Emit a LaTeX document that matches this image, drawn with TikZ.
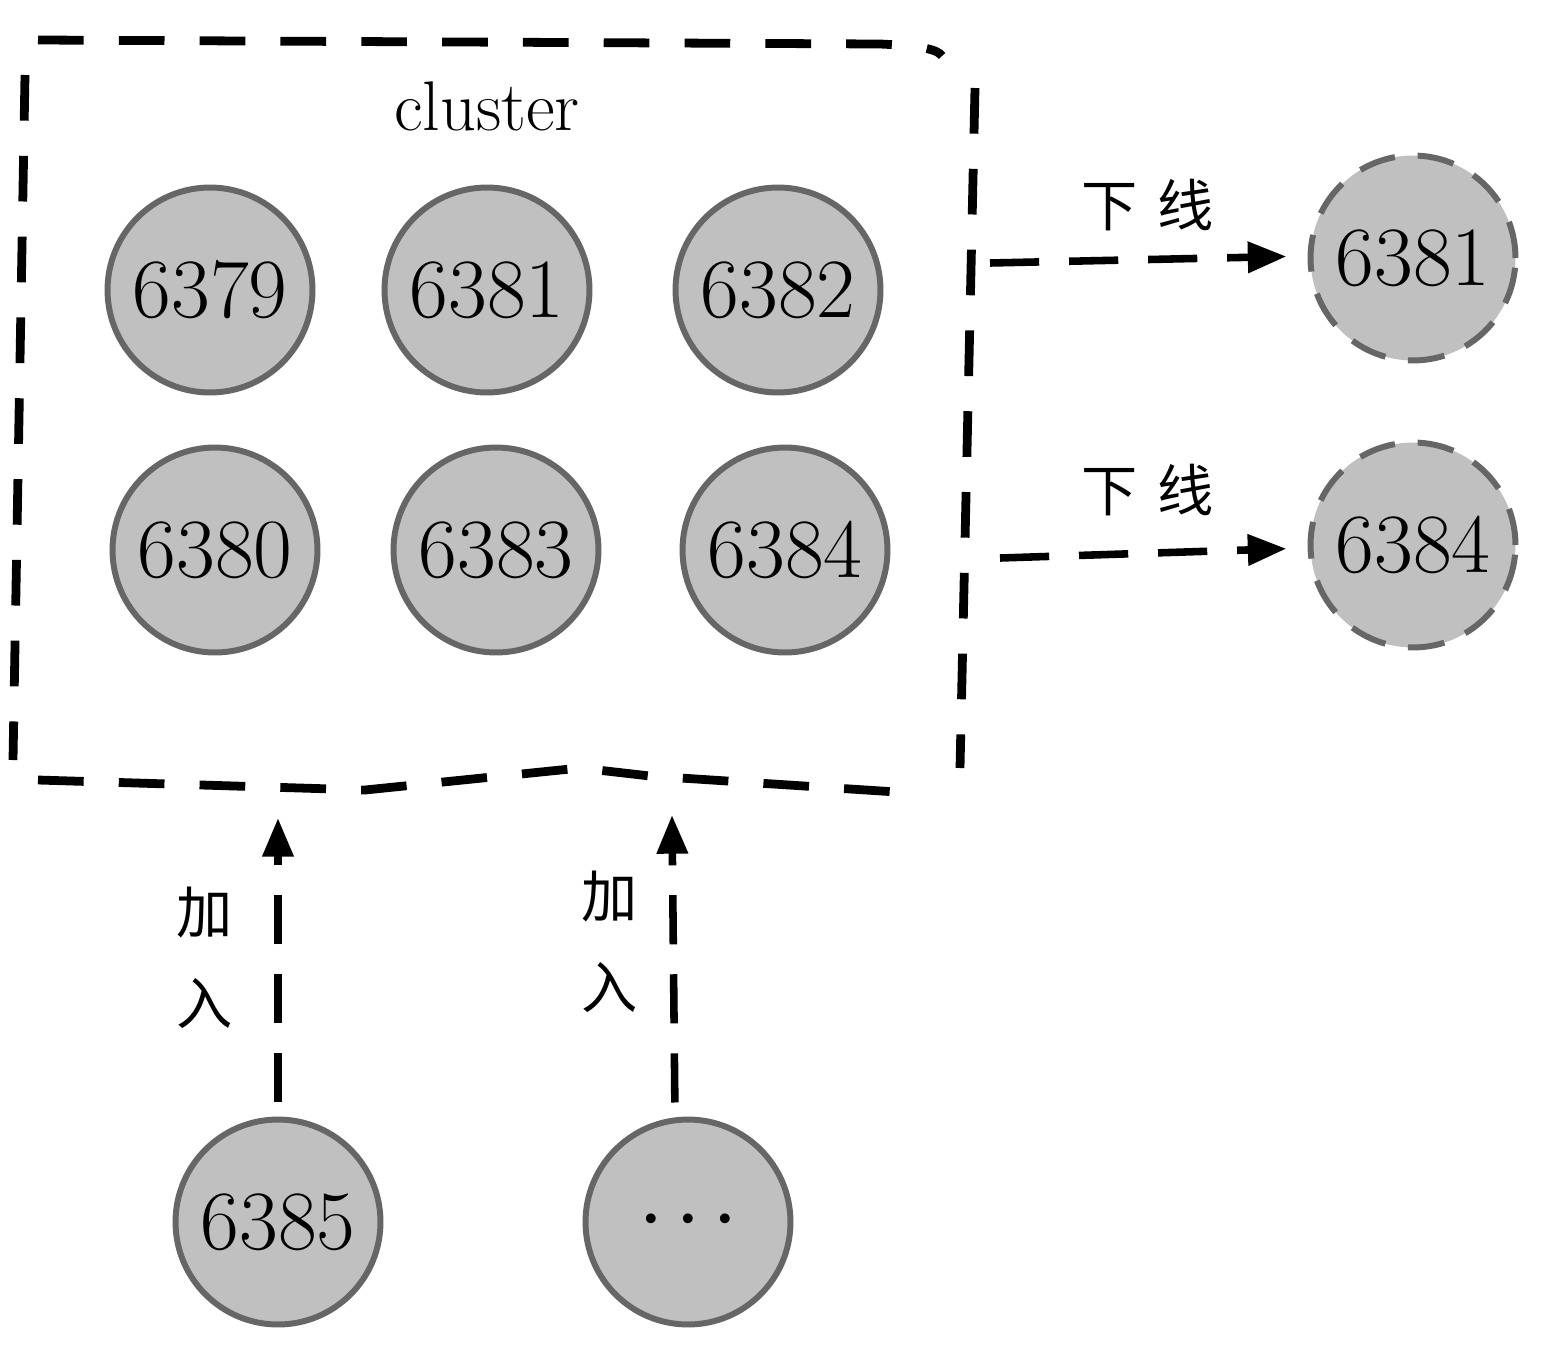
\documentclass[tikz,border=0pt]{standalone}
\usepackage{fontspec}
\newfontfamily\cjk{Noto Sans CJK SC}
\usetikzlibrary{arrows.meta}
\definecolor{nodefill}{HTML}{C0C0C0}
\definecolor{nodeline}{HTML}{666666}
\tikzset{
  srv/.style={circle, draw=nodeline, fill=nodefill, line width=3.4pt, minimum size=4.1cm, inner sep=0pt, font=\fontsize{48}{50}\selectfont},
  gone/.style={srv, dash pattern=on 21pt off 13pt},
  boxline/.style={line width=5pt, dash pattern=on 26pt off 20pt, line cap=butt},
  flow/.style={line width=4.3pt, dash pattern=on 28pt off 17pt, -{Triangle[length=22pt,width=17pt]}},
  lbl/.style={font=\cjk\fontsize{32}{34}\selectfont, inner sep=0pt},
}
\begin{document}
\begin{tikzpicture}[x=0.02cm, y=-0.02cm]
\useasboundingbox (0,0) rectangle (1552,1360);
% cluster box (hand-drawn dashed outline)
\draw[boxline] (38,40) -- (880,44) .. controls (925,46) and (938,50) .. (942,56);
\draw[boxline] (975,88) -- (960,768);
\draw[boxline] (38,780) -- (365,790) -- (580,768) -- (650,776) -- (912,793);
\draw[boxline] (25,75) -- (13,760);
\node[font=\fontsize{40}{42}\selectfont, inner sep=0pt] (title) at (487,106) {cluster};
% cluster members
\node[srv] (n6379) at (210,290) {6379};
\node[srv] (n6381) at (487,290) {6381};
\node[srv] (n6382) at (778,290) {6382};
\node[srv] (n6380) at (215,550) {6380};
\node[srv] (n6383) at (496,550) {6383};
\node[srv] (n6384) at (785,550) {6384};
% removed nodes
\node[gone] (r6381) at (1413,258) {6381};
\node[gone] (r6384) at (1413,545) {6384};
% joining nodes
\node[srv, font=\fontsize{25}{25}\selectfont] (nmore) at (688,1222) {\textbullet\hspace{3pt}\textbullet\hspace{3pt}\textbullet};
\node[srv] (n6385) at (278,1222) {6385};
% connector endpoints on the cluster box
\coordinate (o1) at (990,263);
\coordinate (o2) at (1000,558);
\coordinate (j1) at (278,818);
\coordinate (j2) at (672,815);
% offline arrows
\draw[flow, shorten >=12pt] (o1) -- (r6381.west |- 0,256);
\draw[flow, shorten >=12pt] (o2) -- (r6384.west |- 0,548);
\node[lbl] (t1) at (1148,205) {下\hspace{0.35em}线};
\node[lbl] (t2) at (1148,490) {下\hspace{0.35em}线};
% join arrows
\draw[flow, shorten <=8pt] (n6385.north) -- (j1);
\draw[flow, shorten <=8pt] (nmore.north -| 675,0) -- (j2);
\node[lbl, align=center] (t3) at (205,958) {加\\[0.55em]入};
\node[lbl, align=center] (t4) at (610,942) {加\\[0.55em]入};
\end{tikzpicture}
\end{document}
